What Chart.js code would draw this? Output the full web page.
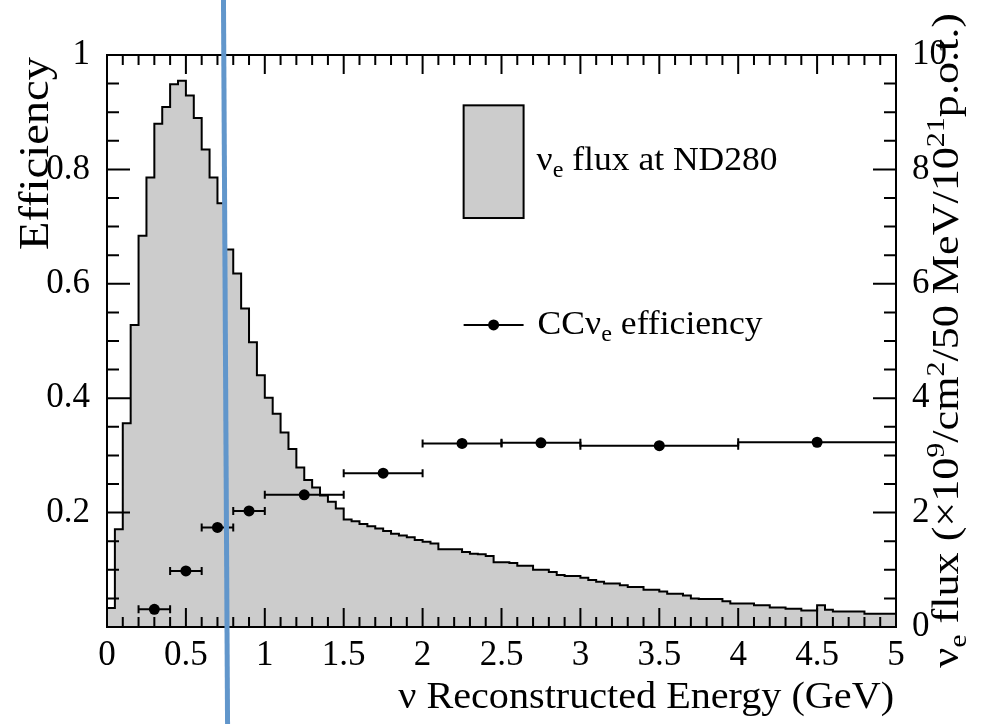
<!DOCTYPE html>
<html>
<head>
<meta charset="utf-8">
<script src="https://cdn.jsdelivr.net/npm/chart.js@4.4.1/dist/chart.umd.min.js"></script>
<style>
  body { margin: 0; background: #fff; }
  canvas { display: block; }
</style>
</head>
<body>
<canvas id="flux-chart" width="994" height="724"></canvas>
<script>
// nu_e flux at ND280, 50 MeV bins from 0 to 5 GeV (right axis units)
const binWidth = 0.05;
const fluxValues = [
  0.33, 1.71, 3.56, 5.28, 6.84, 7.86, 8.80, 9.09, 9.49, 9.55,
  9.29, 8.90, 8.35, 7.86, 7.41, 6.60, 6.18, 5.57, 4.98, 4.40,
  4.01, 3.73, 3.40, 3.11, 2.79, 2.57, 2.44, 2.30, 2.19, 2.07,
  1.88, 1.85, 1.80, 1.76, 1.72, 1.68, 1.63, 1.60, 1.57, 1.52,
  1.49, 1.46, 1.36, 1.36, 1.36, 1.31, 1.28, 1.27, 1.24, 1.13,
  1.13, 1.12, 1.07, 1.07, 1.00, 1.00, 0.96, 0.91, 0.89, 0.89,
  0.86, 0.82, 0.79, 0.76, 0.76, 0.73, 0.70, 0.70, 0.65, 0.65,
  0.62, 0.58, 0.58, 0.55, 0.50, 0.49, 0.49, 0.49, 0.45, 0.41,
  0.41, 0.41, 0.38, 0.38, 0.34, 0.34, 0.32, 0.32, 0.29, 0.29,
  0.38, 0.30, 0.27, 0.27, 0.27, 0.27, 0.23, 0.23, 0.23, 0.23
];

// CC nu_e efficiency points
const effCenters = [0.3, 0.5, 0.7, 0.9, 1.25, 1.75, 2.25, 2.75, 3.5, 4.5];
const effLow     = [0.2, 0.4, 0.6, 0.8, 1.0, 1.5, 2.0, 2.5, 3.0, 4.0];
const effHigh    = [0.4, 0.6, 0.8, 1.0, 1.5, 2.0, 2.5, 3.0, 4.0, 5.0];
const effValues  = [0.031, 0.098, 0.174, 0.203, 0.231, 0.269, 0.321, 0.322, 0.317, 0.323];
const effErrors  = [0, 0, 0, 0, 0, 0, 0.008, 0, 0, 0.007];

// blue marker line drawn over the figure (energy, efficiency units)
const markerX = [0.738, 0.764];
const markerY = [1.10, -0.17];

const xTicks = [0, 0.5, 1, 1.5, 2, 2.5, 3, 3.5, 4, 4.5, 5];

const serif = "'Liberation Serif', 'Times New Roman', serif";

// step outline points: left bin edges
const fluxPoints = [{ x: 0, y: 0 }];
fluxValues.forEach((v, i) => fluxPoints.push({ x: +(i * binWidth).toFixed(2), y: v }));
fluxPoints.push({ x: 5, y: fluxValues[fluxValues.length - 1] });
fluxPoints.push({ x: 5, y: 0 });

const effPoints = effCenters.map((c, i) => ({
  x: c, y: effValues[i], xMin: effLow[i], xMax: effHigh[i], yErr: effErrors[i]
}));

const xTitle = [["\u03bd Reconstructed Energy (GeV)", "n"]];
const yTitle = [["Efficiency", "n"]];
const y2Title = [["\u03bd", "n"], ["e", "sub"], [" flux (\u00d710", "n"], ["9", "sup"],
  ["/cm", "n"], ["2", "sup"], ["/50 MeV/10", "n"], ["21", "sup"], ["p.o.t.)", "n"]];
const legFlux = [["\u03bd", "n"], ["e", "sub"], [" flux at ND280", "n"]];
const legEff = [["CC\u03bd", "n"], ["e", "sub"], [" efficiency", "n"]];

function drawRich(ctx, parts, size) {
  let x = 0;
  parts.forEach(([t, kind]) => {
    const s = kind === 'n' ? size : size * 0.68;
    ctx.font = s + "px " + serif;
    const dy = kind === 'sub' ? size * 0.22 : kind === 'sup' ? -size * 0.38 : 0;
    ctx.fillText(t, x, dy);
    x += ctx.measureText(t).width;
  });
  return x;
}

function richWidth(ctx, parts, size) {
  let w = 0;
  parts.forEach(([t, kind]) => {
    const s = kind === 'n' ? size : size * 0.68;
    ctx.font = s + "px " + serif;
    w += ctx.measureText(t).width;
  });
  return w;
}

// font size that makes the text span the wanted length
function fitSize(ctx, parts, len) {
  return 100 * len / richWidth(ctx, parts, 100);
}

// draw text at a baseline point; squash = glyph height factor
function placeText(ctx, parts, size, x, y, opts) {
  const o = Object.assign({ rotate: false, alignEnd: false, squash: 1 }, opts);
  const w = richWidth(ctx, parts, size);
  ctx.save();
  ctx.translate(x, y);
  if (o.rotate) ctx.rotate(-Math.PI / 2);
  ctx.scale(1, o.squash);
  if (o.alignEnd) ctx.translate(-w, 0);
  drawRich(ctx, parts, size);
  ctx.restore();
}

function build() {
  const canvas = document.getElementById("flux-chart");
  const mctx = canvas.getContext("2d");
  mctx.font = "100px " + serif;
  const tickSize = Math.round(100 * 44 / mctx.measureText("0.5").width);
  const sizes = {
    x: fitSize(mctx, xTitle, 496),
    y: fitSize(mctx, yTitle, 193),
    y2: fitSize(mctx, y2Title, 655),
    legFlux: fitSize(mctx, legFlux, 241),
    legEff: fitSize(mctx, legEff, 225)
  };

  const framePlugin = {
    id: "frame",
    afterDatasetsDraw(chart) {
      const { ctx, chartArea: a, scales } = chart;
      const x = scales.x, y = scales.y, y2 = scales.y2;
      ctx.save();
      ctx.strokeStyle = "#000";
      ctx.lineWidth = 2;

      // error bars
      effPoints.forEach(p => {
        const py = y.getPixelForValue(p.y);
        const x0 = x.getPixelForValue(p.xMin), x1 = x.getPixelForValue(p.xMax);
        ctx.beginPath();
        ctx.moveTo(x0, py); ctx.lineTo(x1, py);
        ctx.moveTo(x0, py - 4); ctx.lineTo(x0, py + 4);
        ctx.moveTo(x1, py - 4); ctx.lineTo(x1, py + 4);
        if (p.yErr > 0) {
          const px = x.getPixelForValue(p.x);
          ctx.moveTo(px, y.getPixelForValue(p.y - p.yErr));
          ctx.lineTo(px, y.getPixelForValue(p.y + p.yErr));
        }
        ctx.stroke();
      });

      // frame
      ctx.strokeRect(a.left, a.top, a.right - a.left, a.bottom - a.top);

      // ticks pointing inward
      ctx.beginPath();
      for (let k = 0; k <= 50; k++) {
        const px = x.getPixelForValue(k * 0.1);
        const len = k % 5 === 0 ? 19 : 10;
        ctx.moveTo(px, a.bottom); ctx.lineTo(px, a.bottom - len);
        ctx.moveTo(px, a.top); ctx.lineTo(px, a.top + len);
      }
      for (let k = 0; k <= 20; k++) {
        const py = y.getPixelForValue(k * 0.05);
        const len = k % 4 === 0 ? 23 : 12;
        ctx.moveTo(a.left, py); ctx.lineTo(a.left + len, py);
      }
      for (let k = 0; k <= 20; k++) {
        const py = y2.getPixelForValue(k * 0.5);
        const len = k % 4 === 0 ? 23 : 12;
        ctx.moveTo(a.right, py); ctx.lineTo(a.right - len, py);
      }
      ctx.stroke();

      // legend
      const lg = {
        boxL: x.getPixelForValue(2.26), boxR: x.getPixelForValue(2.64),
        boxT: y.getPixelForValue(0.912), boxB: y.getPixelForValue(0.715)
      };
      ctx.fillStyle = "#cccccc";
      ctx.fillRect(lg.boxL, lg.boxT, lg.boxR - lg.boxL, lg.boxB - lg.boxT);
      ctx.strokeRect(lg.boxL, lg.boxT, lg.boxR - lg.boxL, lg.boxB - lg.boxT);
      const ly = y.getPixelForValue(0.528);
      ctx.beginPath();
      ctx.moveTo(lg.boxL, ly); ctx.lineTo(lg.boxR, ly);
      ctx.stroke();
      ctx.fillStyle = "#000";
      ctx.beginPath();
      ctx.arc((lg.boxL + lg.boxR) / 2, ly, 5.5, 0, Math.PI * 2);
      ctx.fill();

      ctx.textBaseline = "alphabetic";
      ctx.textAlign = "left";
      placeText(ctx, legFlux, sizes.legFlux, lg.boxR + 13, y.getPixelForValue(0.799), { squash: 0.95 });
      placeText(ctx, legEff, sizes.legEff, lg.boxR + 14, y.getPixelForValue(0.513), { squash: 0.95 });

      // axis titles
      placeText(ctx, xTitle, sizes.x, a.right - 2, 708, { alignEnd: true, squash: 0.92 });
      placeText(ctx, yTitle, sizes.y, 48, a.top + 2, { rotate: true, alignEnd: true, squash: 0.9 });
      placeText(ctx, y2Title, sizes.y2, 958, 13, { rotate: true, alignEnd: true, squash: 0.85 });

      ctx.restore();
    },
    afterDraw(chart) {
      const { ctx, scales } = chart;
      ctx.save();
      ctx.strokeStyle = "#6196cb";
      ctx.lineWidth = 5;
      ctx.beginPath();
      ctx.moveTo(scales.x.getPixelForValue(markerX[0]), scales.y.getPixelForValue(markerY[0]));
      ctx.lineTo(scales.x.getPixelForValue(markerX[1]), scales.y.getPixelForValue(markerY[1]));
      ctx.stroke();
      ctx.restore();
    }
  };

  const tickFont = { family: serif, size: tickSize };
  const fmt = v => String(+(+v).toFixed(2));

  new Chart(canvas, {
    type: "scatter",
    data: {
      datasets: [
        {
          label: "CC efficiency",
          data: effPoints,
          yAxisID: "y",
          pointRadius: 5.5,
          pointBackgroundColor: "#000",
          pointBorderWidth: 0,
          showLine: false,
          order: 0
        },
        {
          label: "flux",
          type: "line",
          data: fluxPoints,
          yAxisID: "y2",
          stepped: true,
          fill: "origin",
          backgroundColor: "#cccccc",
          borderColor: "#000",
          borderWidth: 2,
          pointRadius: 0,
          order: 1
        }
      ]
    },
    options: {
      responsive: false,
      animation: false,
      events: [],
      layout: { padding: { top: 55, left: 0, right: 0, bottom: 0 } },
      plugins: { legend: { display: false }, tooltip: { enabled: false } },
      scales: {
        x: {
          type: "linear",
          min: 0,
          max: 5,
          afterBuildTicks: s => { s.ticks = xTicks.map(v => ({ value: v })); },
          afterFit: s => { s.height = 97; },
          grid: { display: false },
          border: { display: false },
          ticks: { font: tickFont, color: "#000", padding: 0, maxRotation: 0, autoSkip: false, callback: fmt }
        },
        y: {
          position: "left",
          min: 0,
          max: 1,
          afterFit: s => { s.width = 107; },
          grid: { display: false },
          border: { display: false },
          ticks: {
            stepSize: 0.2, font: tickFont, color: "#000", padding: 9,
            callback: v => (v === 0 ? "" : fmt(v))
          }
        },
        y2: {
          position: "right",
          min: 0,
          max: 10,
          afterFit: s => { s.width = 98; },
          grid: { display: false },
          border: { display: false },
          ticks: { stepSize: 2, font: tickFont, color: "#000", padding: 8, callback: fmt }
        }
      }
    },
    plugins: [framePlugin]
  });
}

const fontLoads = [
  document.fonts.load("35px 'Liberation Serif'", "0.5 \u03bd Efficiency"),
  document.fonts.load("24px 'Liberation Serif'", "e921")
];
Promise.race([
  Promise.all(fontLoads),
  new Promise(r => setTimeout(r, 1500))
]).then(build, build);
</script>
</body>
</html>
